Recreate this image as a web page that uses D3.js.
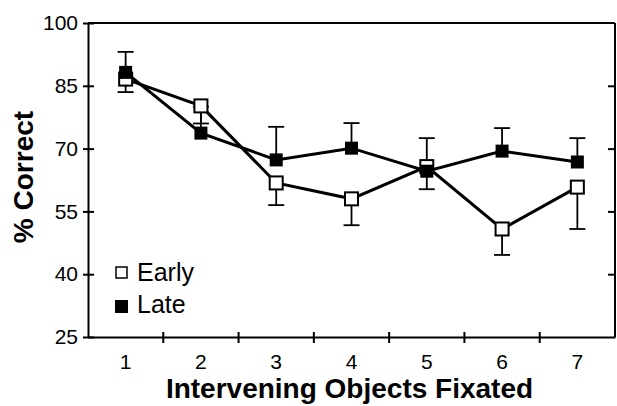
<!DOCTYPE html>
<html>
<head>
<meta charset="utf-8">
<script src="https://cdn.jsdelivr.net/npm/d3@7"></script>
<style>
  body { margin: 0; background: #fff; }
  text { font-family: "Liberation Sans", Arial, sans-serif; fill: #000; }
</style>
</head>
<body>
<div id="chart"></div>
<script>
var objects = [1, 2, 3, 4, 5, 6, 7];
var earlyMean = [86.6, 80.2, 61.8, 58.0, 65.7, 50.8, 60.8];
var earlyLow = [83.5, 76.0, 56.5, 51.7, 60.3, 44.6, 50.8];
var lateMean = [88.2, 73.7, 67.3, 70.1, 64.6, 69.4, 66.8];
var lateHigh = [93.1, 80.0, 75.2, 76.1, 72.5, 74.9, 72.5];
var yTicks = [25, 40, 55, 70, 85, 100];

var svgWidth = 617;
var svgHeight = 406;
var margin = { top: 23, right: 2, bottom: 69, left: 88 };
var chartWidth = svgWidth - margin.left - margin.right;
var chartHeight = svgHeight - margin.top - margin.bottom;

var svg = d3.select("#chart")
  .append("svg")
  .attr("width", svgWidth)
  .attr("height", svgHeight);

var chartGroup = svg.append("g")
  .attr("transform", `translate(${margin.left}, ${margin.top})`);

var xScale = d3.scaleBand()
  .domain(objects)
  .range([0, chartWidth]);

var yScale = d3.scaleLinear()
  .domain([25, 100])
  .range([chartHeight, 0]);

var early = objects.map((d, i) => ({ x: d, y: earlyMean[i], e: earlyLow[i] }));
var late = objects.map((d, i) => ({ x: d, y: lateMean[i], e: lateHigh[i] }));
var cx = d => xScale(d.x) + xScale.bandwidth() / 2;

// frame: top and right lines
chartGroup.append("line")
  .attr("x1", 0).attr("x2", chartWidth)
  .attr("y1", 0).attr("y2", 0)
  .attr("stroke", "#000").attr("stroke-width", 2);
chartGroup.append("line")
  .attr("x1", chartWidth).attr("x2", chartWidth)
  .attr("y1", 0).attr("y2", chartHeight)
  .attr("stroke", "#000").attr("stroke-width", 2);

// left axis, ticks cross the line
var leftAxis = d3.axisLeft(yScale)
  .tickValues(yTicks)
  .tickSizeInner(5)
  .tickSizeOuter(0)
  .tickPadding(5);
var gLeft = chartGroup.append("g").call(leftAxis);
gLeft.select(".domain").attr("stroke-width", 2);
gLeft.selectAll(".tick line").attr("stroke-width", 2).attr("x2", 6).attr("x1", -5);
gLeft.selectAll(".tick text")
  .attr("font-size", 21)
  .attr("font-family", "Liberation Sans, Arial, sans-serif")
  .attr("x", -10);

// right axis, inward ticks
var rightAxis = d3.axisLeft(yScale)
  .tickValues(yTicks.slice(1, -1))
  .tickSizeInner(7)
  .tickSizeOuter(0)
  .tickFormat("");
var gRight = chartGroup.append("g")
  .attr("transform", `translate(${chartWidth}, 0)`)
  .call(rightAxis);
gRight.select(".domain").remove();
gRight.selectAll(".tick line").attr("stroke-width", 2);

// bottom axis: ticks at band edges, labels at band centres
var bottomAxis = d3.axisBottom(xScale)
  .tickSize(0)
  .tickPadding(17);
var gBottom = chartGroup.append("g")
  .attr("transform", `translate(0, ${chartHeight})`)
  .call(bottomAxis);
gBottom.select(".domain").attr("stroke-width", 2);
gBottom.selectAll(".tick text")
  .attr("font-size", 21)
  .attr("font-family", "Liberation Sans, Arial, sans-serif");
gBottom.selectAll(".edge")
  .data(objects.slice(1))
  .enter()
  .append("line")
  .attr("x1", d => xScale(d)).attr("x2", d => xScale(d))
  .attr("y1", -5).attr("y2", 6)
  .attr("stroke", "#000").attr("stroke-width", 2);

// error bars
function drawErrors(data) {
  var g = chartGroup.append("g").attr("stroke", "#000").attr("stroke-width", 1.8);
  g.selectAll(".stem").data(data).enter().append("line")
    .attr("x1", cx).attr("x2", cx)
    .attr("y1", d => yScale(d.y)).attr("y2", d => yScale(d.e));
  g.selectAll(".cap").data(data).enter().append("line")
    .attr("x1", d => cx(d) - 8).attr("x2", d => cx(d) + 8)
    .attr("y1", d => yScale(d.e)).attr("y2", d => yScale(d.e));
}
drawErrors(early);
drawErrors(late);

var line = d3.line().x(cx).y(d => yScale(d.y));
[early, late].forEach(function(series) {
  chartGroup.append("path")
    .datum(series)
    .attr("d", line)
    .attr("fill", "none")
    .attr("stroke", "#000")
    .attr("stroke-width", 3);
});

var sq = 13;
chartGroup.selectAll(".early").data(early).enter().append("rect")
  .attr("x", d => cx(d) - sq / 2).attr("y", d => yScale(d.y) - sq / 2)
  .attr("width", sq).attr("height", sq)
  .attr("fill", "#fff").attr("stroke", "#000").attr("stroke-width", 2);
chartGroup.selectAll(".late").data(late).enter().append("rect")
  .attr("x", d => cx(d) - sq / 2).attr("y", d => yScale(d.y) - sq / 2)
  .attr("width", sq).attr("height", sq)
  .attr("fill", "#000");

// legend
var legend = chartGroup.append("g").attr("transform", "translate(27, 243)");
legend.append("rect").attr("x", 1).attr("y", 1).attr("width", 11).attr("height", 11)
  .attr("fill", "#fff").attr("stroke", "#000").attr("stroke-width", 1.5);
legend.append("text").attr("x", 22).attr("y", 15).attr("font-size", 25).text("Early");
legend.append("rect").attr("x", 0).attr("y", 34).attr("width", 13).attr("height", 13)
  .attr("fill", "#000");
legend.append("text").attr("x", 22).attr("y", 47).attr("font-size", 25).text("Late");

// axis titles
svg.append("text")
  .attr("x", margin.left + chartWidth / 2 - 2)
  .attr("y", 398)
  .attr("text-anchor", "middle")
  .attr("font-size", 28)
  .attr("font-weight", "bold")
  .text("Intervening Objects Fixated");

svg.append("text")
  .attr("transform", "translate(33, 177) rotate(-90)")
  .attr("text-anchor", "middle")
  .attr("font-size", 28)
  .attr("font-weight", "bold")
  .text("% Correct");
</script>
</body>
</html>
